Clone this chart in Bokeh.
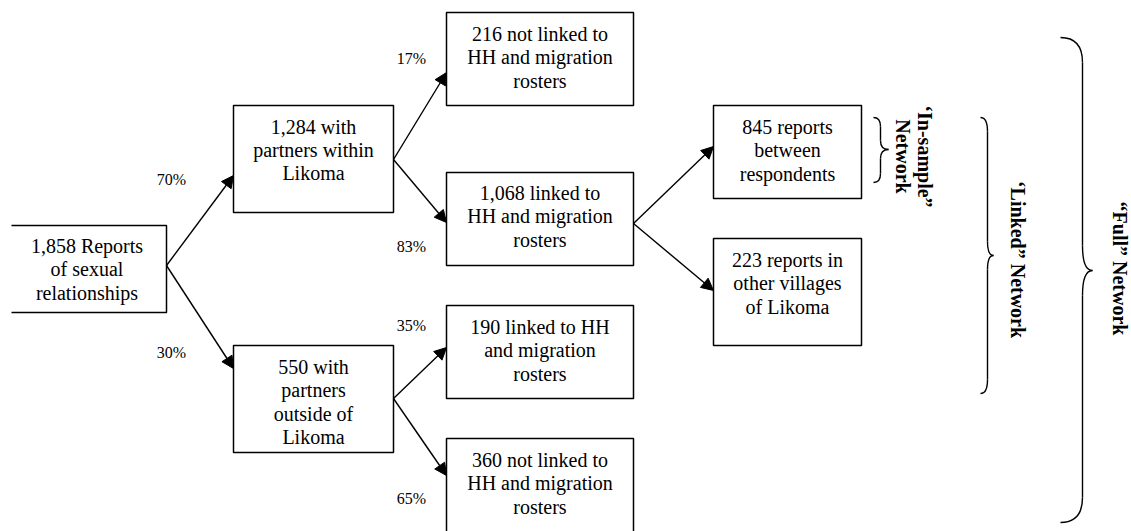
import math
from bokeh.plotting import figure
from bokeh.models import Range1d, ColumnDataSource, Arrow, NormalHead
from bokeh.core.properties import value
from bokeh.embed import file_html
from bokeh.resources import INLINE

# ---------------- data ----------------
node_labels = [
    "1,858 Reports\nof sexual\nrelationships",
    "1,284 with\npartners within\nLikoma",
    "550 with\npartners\noutside of\nLikoma",
    "216 not linked to\nHH and migration\nrosters",
    "1,068 linked to\nHH and migration\nrosters",
    "190 linked to HH\nand migration\nrosters",
    "360 not linked to\nHH and migration\nrosters",
    "845 reports\nbetween\nrespondents",
    "223 reports in\nother villages\nof Likoma",
]
edge_from = [0, 0, 1, 1, 2, 2, 4, 4]
edge_to = [1, 2, 3, 4, 5, 6, 7, 8]
edge_pct = ["70%", "30%", "17%", "83%", "35%", "65%", None, None]
brace_labels = ["\u2018In-sample\u201d\nNetwork", "\u2018Linked\u201d Network", "\u201cFull\u201d Network"]

# ---------------- layout (pixel positions) ----------------
box_l = [11, 233, 233, 446, 446, 446, 446, 713, 713]
box_r = [166, 393, 393, 633, 633, 633, 633, 861, 861]
box_t = [225, 105, 345, 12, 172, 305, 438, 105, 238]
box_b = [312, 212, 452, 105, 265, 398, 545, 198, 345]
text_y = [269, 149.5, 401.5, 57, 216, 350, 483, 150, 283]
start_y = [265, 265, 159, 159, 398, 398, 223, 223]
end_y = [175, 368, 72, 222, 347, 475, 146, 290]
pct_pos = [(171, 179), (171, 352), (411, 58), (411, 246), (411, 325), (411, 498)]
# braces: (x_left, x_vertical, x_tip, y_top, y_mid, y_bottom, radius)
braces = [(873, 880, 888, 117, 149, 182, 9),
          (980, 987, 993, 117, 255, 393, 14),
          (1060, 1082, 1092, 37, 270, 522, 25)]
brace_text_pos = [(913, 156), (1017, 259), (1119, 268)]

W, H = 1131, 531
p = figure(width=W, height=H, x_range=Range1d(0, W), y_range=Range1d(H, 0),
           output_backend="svg", toolbar_location=None, min_border=0)
p.axis.visible = False
p.grid.visible = False
p.outline_line_color = None
p.background_fill_color = "white"

FONT = value("'Liberation Serif', 'Times New Roman', serif")

# boxes (root box drawn without its left side, as in the reference)
idx = list(range(1, len(node_labels)))
p.quad(left=[box_l[i] for i in idx], right=[box_r[i] for i in idx],
       top=[box_t[i] for i in idx], bottom=[box_b[i] for i in idx],
       fill_color="white", line_color="black", line_width=1.5)
p.line(x=[box_l[0], box_r[0], box_r[0], box_l[0]],
       y=[box_t[0], box_t[0], box_b[0], box_b[0]], line_color="black", line_width=1.5)

# node labels
p.text(x=[(box_l[i] + box_r[i]) / 2 - (2 if i == 0 else 0) for i in range(len(node_labels))],
       y=text_y, text=node_labels, text_font=FONT, text_font_size="20px",
       text_align="center", text_baseline="middle", text_line_height=1.05, text_color="black")

# arrows
src = ColumnDataSource(dict(
    x0=[box_r[a] for a in edge_from], y0=start_y,
    x1=[box_l[b] for b in edge_to], y1=end_y))
p.add_layout(Arrow(end=NormalHead(size=12, fill_color="black", line_color="black", line_width=1),
                   x_start="x0", y_start="y0", x_end="x1", y_end="y1",
                   line_width=1.4, line_color="black", source=src))

# percentage labels
pcts = [t for t in edge_pct if t]
p.text(x=[q[0] for q in pct_pos], y=[q[1] for q in pct_pos], text=pcts,
       text_font=FONT, text_font_size="16px", text_align="center",
       text_baseline="middle", text_color="black")

# braces
for (xl, xv, xt, yt, ym, yb, r) in braces:
    p.quadratic(x0=[xl, xv, xt, xv], y0=[yt, ym - r, ym, yb - r],
                x1=[xv, xt, xv, xl], y1=[yt + r, ym, ym + r, yb],
                cx=[xv, xv, xv, xv], cy=[yt, ym, ym, yb],
                line_color="black", line_width=1.4)
    p.segment(x0=[xv, xv], y0=[yt + r, ym + r], x1=[xv, xv], y1=[ym - r, yb - r],
              line_color="black", line_width=1.4)

p.text(x=[q[0] for q in brace_text_pos], y=[q[1] for q in brace_text_pos], text=brace_labels,
       angle=-math.pi / 2, text_font=FONT, text_font_style="bold", text_font_size="20px",
       text_align="center", text_baseline="middle", text_line_height=1.0, text_color="black")

open("out.html", "w").write(file_html(p, INLINE))
